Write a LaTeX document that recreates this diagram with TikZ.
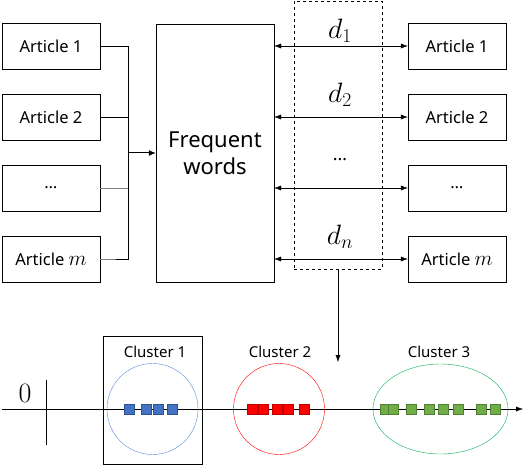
\RequirePackage{fix-cm}
\documentclass[tikz,border=0pt]{standalone}
\usepackage{fontspec}
\newfontfamily\labelfont{Noto Sans}
\usetikzlibrary{arrows.meta}
\definecolor{cblue}{RGB}{68,114,196}
\definecolor{cbluedark}{RGB}{47,82,143}
\definecolor{cblueline}{RGB}{91,139,217}
\definecolor{cred}{RGB}{255,0,0}
\definecolor{creddark}{RGB}{192,0,0}
\definecolor{cgreen}{RGB}{112,173,71}
\definecolor{cgreendark}{RGB}{80,126,50}
\definecolor{cgreenline}{RGB}{0,176,80}
\newcommand{\artm}{{\fontsize{21}{21}\selectfont$m$}}
\tikzset{
  artbox/.style={draw, minimum width=98pt, minimum height=46pt, font=\labelfont\fontsize{16.5}{18}\selectfont},
  sq/.style={draw=#1dark, fill=#1, minimum size=10pt, inner sep=0pt, line width=0.6pt},
  dlabel/.style={font=\fontsize{28}{30}\selectfont},
  clabel/.style={font=\labelfont\fontsize{15}{17}\selectfont},
  biarrow/.style={{Latex[length=7pt,width=5pt]}-{Latex[length=7pt,width=5pt]}}
}
\begin{document}
\begin{tikzpicture}[x=1pt,y=-1pt]
        \useasboundingbox (0,0) rectangle (532,465);
        % articles on the left
        \node[artbox] (a1) at (51,46) {Article 1};
        \node[artbox] (a2) at (51,117) {Article 2};
        \node[artbox] (a3) at (51,188) {\dots};
        \node[artbox] (a4) at (51,259) {Article \artm};
        % frequent words
        \node[draw, minimum width=118pt, minimum height=258pt, font=\labelfont\fontsize{22}{27}\selectfont, align=center] (freq) at (215,153) {Frequent\\words};
        % articles on the right
        \node[artbox] (b1) at (457,46) {Article 1};
        \node[artbox] (b2) at (457,117) {Article 2};
        \node[artbox] (b3) at (457,188) {\dots};
        \node[artbox] (b4) at (457,259) {Article \artm};
        % lines into the frequent words
        \coordinate (bus) at (128,153);
        \draw (a1.east) -| (a4.east -| bus) -- (a4.east);
        \draw (a2.east) -- (a2.east -| bus);
        \draw[gray] (a3.east) -- (a3.east -| bus);
        \draw[gray] (a4.east) -- ([xshift=-12pt]a4.east -| bus);
        \draw[line width=1pt, -{Latex[length=7pt,width=6pt]}] (bus) -- (freq.west |- bus);
        % distances
        \node[draw, dashed, minimum width=88pt, minimum height=268pt] (dbox) at (338,135) {};
        \draw[biarrow] (freq.east |- b1.west) -- (b1.west);
        \draw[biarrow] (freq.east |- b2.west) -- (b2.west);
        \draw[biarrow] (freq.east |- b3.west) -- (b3.west);
        \draw[biarrow] (freq.east |- b4.west) -- (b4.west);
        \node[dlabel] (d1) at (340,31) {$d_1$};
        \node[dlabel] (d2) at (340,95) {$d_2$};
        \node[font=\labelfont\fontsize{18}{20}\selectfont] (dd) at (340,160) {\dots};
        \node[dlabel] (dn) at (340,237) {$d_n$};
        \coordinate (down) at (338,362);
        \draw[-{Latex[length=7pt,width=5pt]}] (dbox.south) -- (down);
        % axis
        \coordinate (origin) at (2,409);
        \coordinate (tip) at (523,409);
        \draw[-{Latex[length=7pt,width=5pt]}] (origin) -- (tip);
        \coordinate (tickt) at (46,380);
        \coordinate (tickb) at (46,445);
        \draw (tickt) -- (tickb);
        \node[dlabel] (zero) at (25,393) {$0$};
        % cluster 1
        \node[draw, minimum width=99pt, minimum height=128pt] (c1box) at (152.5,400) {};
        \draw[cblueline] (152.5,409) circle(45.5pt);
        \node[clabel] (c1) at (155,352) {Cluster 1};
        \foreach \x in {129,146,158,172}
          \node[sq=cblue] at (\x,409) {};
        % cluster 2
        \draw[cred] (279,409) circle(45.5pt);
        \node[clabel] (c2) at (280,352) {Cluster 2};
        \foreach \x in {252,263,277,288,304}
          \node[sq=cred] at (\x,409) {};
        % cluster 3
        \draw[cgreenline] (440.5,409) ellipse(67.5pt and 45pt);
        \node[clabel] (c3) at (439,352) {Cluster 3};
        \foreach \x in {385,393,411,429,443,458,481,495}
          \node[sq=cgreen] at (\x,409) {};
      \end{tikzpicture}
\end{document}
